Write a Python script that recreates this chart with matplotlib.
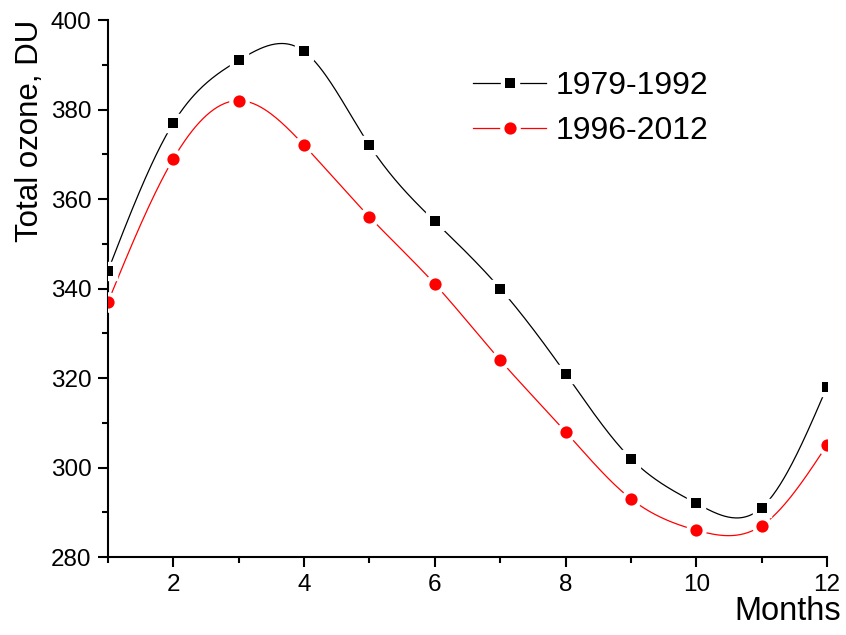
import numpy as np
import matplotlib
matplotlib.use("Agg")
import matplotlib.pyplot as plt
from matplotlib.legend_handler import HandlerTuple

months = [1, 2, 3, 4, 5, 6, 7, 8, 9, 10, 11, 12]
ozone_1979_1992 = [344, 377, 391, 393, 372, 355, 340, 321, 302, 292, 291, 318]
ozone_1996_2012 = [337, 369, 382, 372, 356, 341, 324, 308, 293, 286, 287, 305]
label_1 = "1979-1992"
label_2 = "1996-2012"
x_ticks = [2, 4, 6, 8, 10, 12]
y_ticks = [280, 300, 320, 340, 360, 380, 400]

plt.rcParams['font.family'] = ['Liberation Sans', 'DejaVu Sans']


def natural_spline(x, y, xs):
    x = np.asarray(x, float)
    y = np.asarray(y, float)
    n = len(x)
    h = np.diff(x)
    A = np.zeros((n, n))
    b = np.zeros(n)
    A[0, 0] = 1
    A[-1, -1] = 1
    for i in range(1, n - 1):
        A[i, i - 1] = h[i - 1]
        A[i, i] = 2 * (h[i - 1] + h[i])
        A[i, i + 1] = h[i]
        b[i] = 6 * ((y[i + 1] - y[i]) / h[i] - (y[i] - y[i - 1]) / h[i - 1])
    M = np.linalg.solve(A, b)
    idx = np.clip(np.searchsorted(x, xs) - 1, 0, n - 2)
    x0, x1 = x[idx], x[idx + 1]
    hh = x1 - x0
    t0 = x1 - xs
    t1 = xs - x0
    ys = (M[idx] * t0 ** 3 / (6 * hh) + M[idx + 1] * t1 ** 3 / (6 * hh)
          + (y[idx] / hh - M[idx] * hh / 6) * t0
          + (y[idx + 1] / hh - M[idx + 1] * hh / 6) * t1)
    return ys


fig = plt.figure(figsize=(8.46, 6.35), dpi=100)
ax = fig.add_axes([0.1277, 0.1228, 0.8498, 0.8457])

xs = np.linspace(months[0], months[-1], 600)

handles = []
for vals, col, mk, ms, lab in [
    (ozone_1979_1992, 'black', 's', 7.5, label_1),
    (ozone_1996_2012, 'red', 'o', 8.8, label_2),
]:
    ln, = ax.plot(xs, natural_spline(months, vals, xs), color=col, lw=0.9, zorder=2)
    wm, = ax.plot(months, vals, ls='none', marker=mk, ms=ms + 5, color='white',
                  mec='white', zorder=3)
    cm, = ax.plot(months, vals, ls='none', marker=mk, ms=ms, color=col,
                  mec=col, mew=0, zorder=4)
    handles.append(((ln, wm, cm), lab))

ax.set_xlim(1, 12)
ax.set_ylim(280, 400)
ax.set_xticks(x_ticks)
ax.set_yticks(y_ticks)
ax.set_xticks([3, 5, 7, 9, 11, 1], minor=True)
ax.set_yticks([290, 310, 330, 350, 370, 390], minor=True)
for s in ['top', 'right']:
    ax.spines[s].set_visible(False)
for s in ['left', 'bottom']:
    ax.spines[s].set_linewidth(1.5)
ax.tick_params(which='major', direction='out', length=7, width=1.5, labelsize=17.5, pad=5)
ax.tick_params(which='minor', direction='out', length=4.5, width=1.5)

fig.text(30 / 846, 1 - 131 / 635, "Total ozone, DU", rotation=90, fontsize=22.5,
         ha='center', va='center')
fig.text(841 / 846, 1 - 612 / 635, "Months", fontsize=23.5, ha='right', va='center')

leg = ax.legend([h for h, _ in handles], [l for _, l in handles],
                handler_map={tuple: HandlerTuple(ndivide=1, pad=0)},
                loc='upper left', bbox_to_anchor=(473 / 846, 1 - 71 / 635),
                bbox_transform=fig.transFigure, frameon=False, fontsize=23,
                handlelength=2.3, handletextpad=0.3, labelspacing=0.48,
                borderpad=0, borderaxespad=0)

fig.savefig("out.png", dpi=100)
